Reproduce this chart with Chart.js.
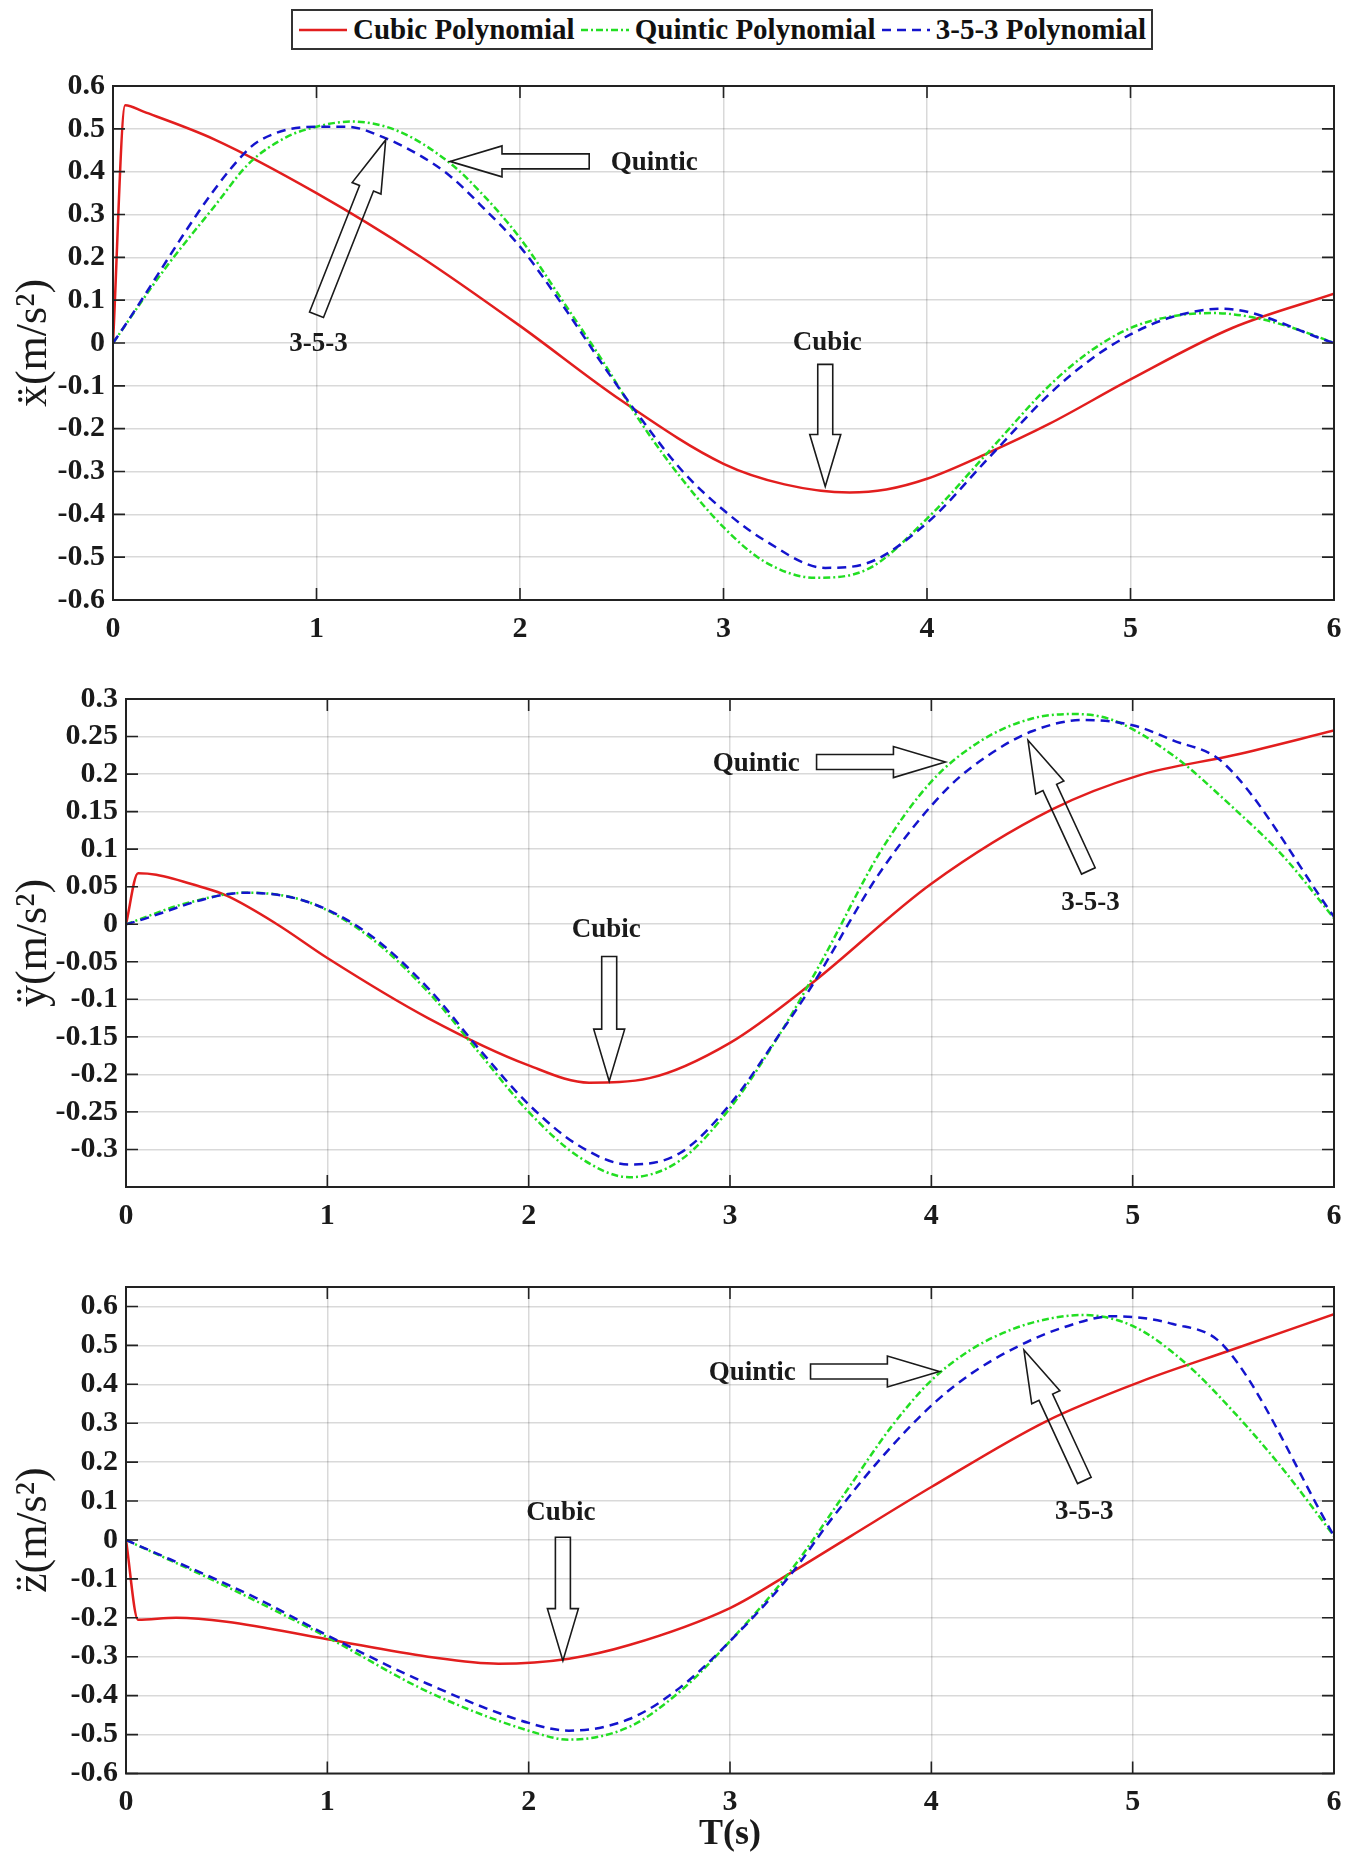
<!DOCTYPE html>
<html><head><meta charset="utf-8">
<script src="https://cdn.jsdelivr.net/npm/chart.js@4.4.1/dist/chart.umd.min.js"></script>
<style>
body{margin:0;background:#fff;width:1355px;height:1860px;position:relative;overflow:hidden;font-family:"Liberation Serif","Times New Roman",serif;}
canvas{position:absolute;left:0;}
#legend{position:absolute;left:291px;top:9px;width:862px;height:41px;box-sizing:border-box;border:2px solid #333;display:flex;align-items:center;justify-content:space-between;padding:0 5px;font-weight:bold;font-size:29px;color:#111;background:#fff;}
.item{display:flex;align-items:center;white-space:nowrap;}
.item svg{margin-right:5px;}
</style></head>
<body>
<div id="legend"></div>
<canvas id="c1" width="1355" height="600" style="top:60px"></canvas>
<canvas id="c2" width="1355" height="574" style="top:673px"></canvas>
<canvas id="c3" width="1355" height="599" style="top:1261px"></canvas>
<script>
// ---------- data ----------
const seriesNames = ['Cubic Polynomial', 'Quintic Polynomial', '3-5-3 Polynomial'];
const xTicks = [0, 1, 2, 3, 4, 5, 6];

// plot 1 : x acceleration
const xCubicT = [0, 0.06, 0.15, 0.5, 1, 1.5, 2, 2.5, 3, 3.3, 3.62, 3.8, 4.0, 4.28, 4.6, 5, 5.5, 6];
const xCubicV = [0, 0.555, 0.54, 0.475, 0.35, 0.205, 0.04, -0.135, -0.282, -0.33, -0.349, -0.342, -0.317, -0.261, -0.189, -0.085, 0.035, 0.115];
const xQuinticT = [0, 0.25, 0.5, 0.67, 0.85, 1.0, 1.17, 1.4, 1.656, 1.8, 2.0, 2.21, 2.41, 2.6, 2.8, 3.0, 3.2, 3.45, 3.7, 4.0, 4.3, 4.6, 4.8, 5.0, 5.2, 5.4, 5.6, 5.8, 6.0];
const xQuinticV = [0, 0.17, 0.32, 0.42, 0.48, 0.505, 0.517, 0.495, 0.42, 0.355, 0.245, 0.098, -0.045, -0.19, -0.32, -0.43, -0.51, -0.548, -0.53, -0.41, -0.255, -0.1, -0.02, 0.035, 0.062, 0.07, 0.06, 0.035, 0];
const x353T = [0, 0.66, 0.8, 1.0, 1.15, 1.33, 1.5, 1.656, 1.8, 2.0, 2.21, 2.42, 2.6, 2.8, 3.0, 3.2, 3.5, 3.7, 4.0, 4.3, 4.6, 4.8, 5.0, 5.2, 5.45, 6.0];
const x353V = [0, 0.45, 0.49, 0.505, 0.505, 0.48, 0.44, 0.39, 0.325, 0.225, 0.088, -0.06, -0.18, -0.3, -0.39, -0.46, -0.525, -0.515, -0.42, -0.27, -0.12, -0.04, 0.02, 0.06, 0.08, 0];
const xYTicks = [-0.6, -0.5, -0.4, -0.3, -0.2, -0.1, 0, 0.1, 0.2, 0.3, 0.4, 0.5, 0.6];

// plot 2 : y acceleration
const yCubicT = [0, 0.06, 0.15, 0.37, 0.5, 0.75, 1, 1.5, 2, 2.3, 2.6, 3, 3.4, 4, 4.6, 5.04, 5.5, 6];
const yCubicV = [0, 0.068, 0.066, 0.05, 0.038, 0.0, -0.045, -0.125, -0.188, -0.211, -0.205, -0.158, -0.08, 0.054, 0.153, 0.199, 0.225, 0.258];
const yQuinticT = [0, 0.3, 0.6, 0.9, 1.2, 1.5, 1.75, 2.0, 2.25, 2.5, 2.75, 3.0, 3.25, 3.46, 3.75, 4.0, 4.25, 4.5, 4.7, 4.9, 5.2, 5.5, 5.75, 6.0];
const yQuinticV = [0, 0.028, 0.042, 0.03, -0.015, -0.09, -0.17, -0.25, -0.31, -0.337, -0.315, -0.245, -0.145, -0.047, 0.098, 0.19, 0.245, 0.274, 0.28, 0.272, 0.225, 0.155, 0.09, 0.008];
const y353T = [0, 0.6, 0.9, 1.2, 1.5, 1.75, 2.0, 2.25, 2.5, 2.75, 3.0, 3.25, 3.4, 3.75, 4.08, 4.3, 4.5, 4.75, 5.0, 5.2, 5.45, 6.0];
const y353V = [0, 0.042, 0.03, -0.012, -0.085, -0.165, -0.24, -0.295, -0.32, -0.305, -0.24, -0.145, -0.085, 0.071, 0.181, 0.228, 0.257, 0.272, 0.265, 0.245, 0.215, 0.01];
const yYTicks = [-0.3, -0.25, -0.2, -0.15, -0.1, -0.05, 0, 0.05, 0.1, 0.15, 0.2, 0.25, 0.3];

// plot 3 : z acceleration
const zCubicT = [0, 0.06, 0.25, 0.5, 1.0, 1.5, 1.85, 2.2, 2.5, 3.0, 3.3, 3.6, 4.0, 4.57, 5.04, 5.5, 6.0];
const zCubicV = [0, -0.205, -0.2, -0.21, -0.255, -0.3, -0.318, -0.305, -0.27, -0.175, -0.085, 0.01, 0.136, 0.305, 0.407, 0.49, 0.58];
const zQuinticT = [0, 0.5, 1.0, 1.5, 2.0, 2.2, 2.5, 2.75, 3.0, 3.3, 3.58, 3.8, 4.0, 4.2, 4.41, 4.6, 4.75, 5.0, 5.25, 5.5, 5.75, 6.0];
const zQuinticV = [0, -0.12, -0.25, -0.39, -0.49, -0.513, -0.48, -0.39, -0.26, -0.08, 0.127, 0.29, 0.41, 0.49, 0.543, 0.57, 0.578, 0.55, 0.46, 0.33, 0.18, 0.01];
const z353T = [0, 0.65, 1.0, 1.5, 2.0, 2.2, 2.5, 2.75, 3.0, 3.3, 3.5, 3.75, 4.01, 4.2, 4.44, 4.65, 4.9, 5.2, 5.45, 6.0];
const z353V = [0, -0.15, -0.245, -0.37, -0.47, -0.49, -0.46, -0.38, -0.26, -0.09, 0.051, 0.21, 0.35, 0.428, 0.5, 0.545, 0.575, 0.555, 0.5, 0.01];
const zYTicks = [-0.6, -0.5, -0.4, -0.3, -0.2, -0.1, 0, 0.1, 0.2, 0.3, 0.4, 0.5, 0.6];

// ---------- annotations (data coordinates) ----------
const notes1 = [
  {arrow:[[2.34, 0.424], [1.656, 0.424]]}, {text:'Quintic', at:[2.66, 0.42]},
  {arrow:[[1.0, 0.066], [1.34, 0.474]]}, {text:'3-5-3', at:[1.01, -0.002]},
  {arrow:[[3.5, -0.05], [3.5, -0.335]]}, {text:'Cubic', at:[3.51, 0.0]}
];
const notes2 = [
  {arrow:[[3.43, 0.216], [4.07, 0.216]]}, {text:'Quintic', at:[3.13, 0.213]},
  {arrow:[[4.78, 0.071], [4.48, 0.245]]}, {text:'3-5-3', at:[4.79, 0.028]},
  {arrow:[[2.4, -0.043], [2.4, -0.209]]}, {text:'Cubic', at:[2.385, -0.0075]}
];
const notes3 = [
  {arrow:[[3.40, 0.433], [4.04, 0.433]]}, {text:'Quintic', at:[3.11, 0.428]},
  {arrow:[[4.76, 0.153], [4.46, 0.488]]}, {text:'3-5-3', at:[4.76, 0.072]},
  {arrow:[[2.17, 0.007], [2.17, -0.31]]}, {text:'Cubic', at:[2.16, 0.07]}
];

// ---------- styling ----------
const FONT = '"Liberation Serif", "Times New Roman", serif';
const COLORS = ['rgb(226,30,30)', 'rgb(34,222,34)', 'rgb(20,20,205)'];
const DASHES = [[], [7, 3, 2, 3], [9, 6]];
const ORDERS = [3, 2, 1];

// legend
const legend = document.getElementById('legend');
seriesNames.forEach((n, i) => {
  const d = document.createElement('div'); d.className = 'item';
  d.innerHTML = `<svg width="50" height="10"><line x1="1" y1="5" x2="49" y2="5" stroke="${COLORS[i]}" stroke-width="2.5" stroke-dasharray="${DASHES[i].join(' ')}"/></svg><span>${n}</span>`;
  legend.appendChild(d);
});

const fmt = v => Math.abs(v) < 1e-9 ? '0' : String(+v.toFixed(2));

const boxPlugin = {
  id: 'boxAndNotes',
  afterDatasetsDraw(chart, args, opts) {
    const {ctx, chartArea: a, scales} = chart;
    ctx.save();
    ctx.strokeStyle = '#222'; ctx.lineWidth = 2;
    ctx.strokeRect(a.left, a.top, a.right - a.left, a.bottom - a.top);
    ctx.lineWidth = 1.6;
    scales.x.ticks.forEach(t => {
      const px = scales.x.getPixelForValue(t.value);
      ctx.beginPath(); ctx.moveTo(px, a.bottom); ctx.lineTo(px, a.bottom - 12);
      ctx.moveTo(px, a.top); ctx.lineTo(px, a.top + 12); ctx.stroke();
    });
    scales.y.ticks.forEach(t => {
      const py = scales.y.getPixelForValue(t.value);
      ctx.beginPath(); ctx.moveTo(a.left, py); ctx.lineTo(a.left + 12, py);
      ctx.moveTo(a.right, py); ctx.lineTo(a.right - 12, py); ctx.stroke();
    });
    // annotations
    const notes = opts.notes || [];
    notes.forEach(n => {
      if (n.arrow) {
        const [p0, p1] = n.arrow;
        const x0 = scales.x.getPixelForValue(p0[0]), y0 = scales.y.getPixelForValue(p0[1]);
        const x1 = scales.x.getPixelForValue(p1[0]), y1 = scales.y.getPixelForValue(p1[1]);
        const L = Math.hypot(x1 - x0, y1 - y0);
        const ux = (x1 - x0) / L, uy = (y1 - y0) / L, nx = -uy, ny = ux;
        const sw = 7.5, hw = 15.5, hl = 52;
        const bx = x1 - ux * hl, by = y1 - uy * hl;
        const pts = [
          [x0 + nx * sw, y0 + ny * sw], [bx + nx * sw, by + ny * sw], [bx + nx * hw, by + ny * hw],
          [x1, y1], [bx - nx * hw, by - ny * hw], [bx - nx * sw, by - ny * sw], [x0 - nx * sw, y0 - ny * sw]
        ];
        ctx.beginPath(); ctx.moveTo(pts[0][0], pts[0][1]);
        pts.slice(1).forEach(p => ctx.lineTo(p[0], p[1]));
        ctx.closePath();
        ctx.strokeStyle = '#1a1a1a'; ctx.lineWidth = 1.6; ctx.lineJoin = 'miter';
        ctx.stroke();
      } else if (n.text) {
        ctx.font = `bold 27px ${FONT}`; ctx.fillStyle = '#1a1a1a';
        ctx.textAlign = 'center'; ctx.textBaseline = 'middle';
        ctx.fillText(n.text, scales.x.getPixelForValue(n.at[0]), scales.y.getPixelForValue(n.at[1]));
      }
    });
    ctx.restore();
  }
};

function makeChart(id, series, yTicks, yMin, yMax, yLabel, yWidth, xHeight, notes, xTitle) {
  const datasets = series.map((s, i) => ({
    label: seriesNames[i],
    data: s[0].map((t, k) => ({x: t, y: s[1][k]})),
    borderColor: COLORS[i], borderWidth: 2.5, borderDash: DASHES[i],
    pointRadius: 0, fill: false, cubicInterpolationMode: 'monotone', order: ORDERS[i]
  }));
  return new Chart(document.getElementById(id), {
    type: 'line',
    data: {datasets},
    plugins: [boxPlugin],
    options: {
      responsive: false, animation: false, devicePixelRatio: 1,
      layout: {padding: {top: 20, right: 21, left: 0, bottom: 0}},
      plugins: {legend: {display: false}, tooltip: {enabled: false}, boxAndNotes: {notes}},
      scales: {
        x: {
          type: 'linear', min: 0, max: 6,
          afterBuildTicks: s => { s.ticks = xTicks.map(v => ({value: v})); },
          afterFit: s => { s.height = xHeight; },
          ticks: {font: {family: FONT, weight: 'bold', size: 30}, color: '#1a1a1a', padding: 11, maxRotation: 0, autoSkip: false, callback: v => fmt(v)},
          grid: {color: 'rgba(0,0,0,0.15)', lineWidth: 1.5, drawTicks: false},
          border: {display: false},
          title: xTitle ? {display: true, text: xTitle, font: {family: FONT, weight: 'bold', size: 36}, color: '#1a1a1a', padding: {top: 3}} : {display: false}
        },
        y: {
          type: 'linear', min: yMin, max: yMax,
          afterBuildTicks: s => { s.ticks = yTicks.map(v => ({value: v})); },
          afterFit: s => { s.width = yWidth; },
          ticks: {font: {family: FONT, weight: 'bold', size: 30}, color: '#1a1a1a', padding: 8, autoSkip: false, callback: v => fmt(v)},
          grid: {color: 'rgba(0,0,0,0.15)', lineWidth: 1.5, drawTicks: false},
          border: {display: false},
          title: {display: true, text: yLabel, font: {family: FONT, size: 44}, color: '#1a1a1a', padding: {top: 8, bottom: 0}}
        }
      }
    }
  });
}

makeChart('c1', [[xCubicT, xCubicV], [xQuinticT, xQuinticV], [x353T, x353V]], xYTicks, -0.6, 0.6, 'ẍ(m/s²)', 113, 60, notes1, null);
makeChart('c2', [[yCubicT, yCubicV], [yQuinticT, yQuinticV], [y353T, y353V]], yYTicks, -0.35, 0.3, 'ÿ(m/s²)', 126, 60, notes2, null);
makeChart('c3', [[zCubicT, zCubicV], [zQuinticT, zQuinticV], [z353T, z353V]], zYTicks, -0.6, 0.65, 'z̈(m/s²)', 126, 86.5, notes3, 'T(s)');
</script>
</body></html>
